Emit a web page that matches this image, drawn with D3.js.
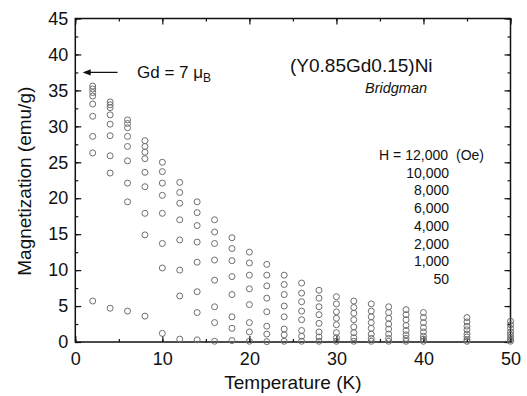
<!DOCTYPE html>
<html>
<head>
<meta charset="utf-8">
<script src="https://cdn.jsdelivr.net/npm/d3@7"></script>
<style>
  html, body { margin: 0; padding: 0; background: #fff; }
  svg { display: block; }
  text { font-family: "Liberation Sans", Arial, Helvetica, sans-serif; fill: #111; }
</style>
</head>
<body>
<svg id="chart" width="527" height="396"></svg>
<script>
// ---- data ----
const temperatures = [2, 4, 6, 8, 10, 12, 14, 16, 18, 20, 22, 24, 26, 28, 30, 32, 34, 36, 38, 40, 45, 50];
const h12000 = [35.6, 33.4, 30.9, 28.0, 25.0, 22.2, 19.5, 17.0, 14.5, 12.5, 10.8, 9.3, 8.2, 7.2, 6.3, 5.7, 5.3, 4.9, 4.5, 4.1, 3.4, 2.9];
const h10000 = [35.2, 33.0, 30.4, 27.2, 23.7, 20.8, 18.0, 15.3, 13.0, 11.0, 9.3, 8.0, 6.8, 6.1, 5.3, 4.8, 4.3, 4.1, 3.8, 3.4, 2.8, 2.4];
const h8000  = [34.7, 32.6, 29.8, 26.4, 22.1, 19.3, 16.2, 13.7, 11.3, 9.3, 7.8, 6.6, 5.6, 4.9, 4.2, 4.0, 3.5, 3.3, 3.1, 2.7, 2.2, 1.9];
const h6000  = [34.2, 31.6, 28.6, 25.5, 20.4, 17.0, 13.9, 11.4, 9.1, 7.4, 6.1, 5.0, 4.3, 3.8, 3.3, 3.1, 2.7, 2.5, 2.3, 2.0, 1.7, 1.4];
const h4000  = [33.1, 30.3, 27.2, 23.6, 17.9, 14.2, 11.1, 8.6, 6.6, 5.2, 4.2, 3.5, 3.1, 2.6, 2.4, 2.1, 1.9, 1.8, 1.6, 1.4, 1.1, 1.0];
const h2000  = [31.4, 28.7, 25.2, 21.6, 13.7, 10.0, 7.0, 4.9, 3.5, 2.7, 2.2, 1.8, 1.6, 1.4, 1.3, 1.3, 1.1, 1.1, 1.0, 0.8, 0.7, 0.6];
const h1000  = [28.6, 25.9, 22.1, 17.9, 10.3, 6.4, 4.1, 2.7, 1.9, 1.4, 1.1, 1.0, 0.8, 0.7, 0.6, 0.6, 0.5, 0.5, 0.5, 0.4, 0.3, 0.3];
const hExtra = [26.3, 23.5, 19.5, 14.9, null, null, null, null, null, null, null, null, null, null, null, null, null, null, null, null, null, null];
const h50    = [5.7, 4.7, 4.3, 3.6, 1.2, 0.4, 0.3, 0.1, 0.2, 0.1, 0.05, 0.1, 0.1, 0.1, 0.1, 0.1, 0.1, 0.1, 0.1, 0.1, 0.1, 0.1];
const seriesList = [h12000, h10000, h8000, h6000, h4000, h2000, h1000, hExtra, h50];

const xTicks = [0, 10, 20, 30, 40, 50];
const yTicks = [0, 5, 10, 15, 20, 25, 30, 35, 40, 45];
const fieldLabels = ["10,000", "8,000", "6,000", "4,000", "2,000", "1,000", "50"];
const gdMoment = 37.5;

// ---- layout ----
const svg = d3.select("#chart");
const pLeft = 75.3, pRight = 510.5, pTop = 18.5, pBottom = 342;
const x = d3.scaleLinear().domain([0, 50]).range([pLeft, pRight]);
const y = d3.scaleLinear().domain([0, 45]).range([pBottom, pTop]);

const FONT = '"Liberation Sans", Arial, Helvetica, sans-serif';

function styleAxis(g) {
  g.select(".domain").remove();
  g.selectAll("line").attr("stroke", "#111").attr("stroke-width", 1.2);
  g.selectAll("text").attr("font-family", FONT).attr("fill", "#111");
}
const xMinor = d3.range(0, 50.01, 5);
const yMinor = d3.range(0, 45.01, 2.5);

// bottom
svg.append("g").attr("transform", `translate(0,${pBottom})`)
  .call(d3.axisBottom(x).tickValues(xMinor).tickSize(-3).tickFormat(""))
  .call(styleAxis);
svg.append("g").attr("transform", `translate(0,${pBottom})`)
  .call(d3.axisBottom(x).tickValues(xTicks).tickSize(-6).tickFormat(d3.format("d")))
  .call(styleAxis)
  .call(g => g.selectAll("text").attr("font-size", 18).attr("dy", "0.71em").attr("y", 10));
// top
svg.append("g").attr("transform", `translate(0,${pTop})`)
  .call(d3.axisTop(x).tickValues(xMinor).tickSize(-3).tickFormat(""))
  .call(styleAxis);
svg.append("g").attr("transform", `translate(0,${pTop})`)
  .call(d3.axisTop(x).tickValues(xTicks).tickSize(-6).tickFormat(""))
  .call(styleAxis);
// left
svg.append("g").attr("transform", `translate(${pLeft},0)`)
  .call(d3.axisLeft(y).tickValues(yMinor).tickSize(-3).tickFormat(""))
  .call(styleAxis);
svg.append("g").attr("transform", `translate(${pLeft},0)`)
  .call(d3.axisLeft(y).tickValues(yTicks).tickSize(-6).tickFormat(d3.format("d")))
  .call(styleAxis)
  .call(g => g.selectAll("text").attr("font-size", 18).attr("x", -7));
// right
svg.append("g").attr("transform", `translate(${pRight},0)`)
  .call(d3.axisRight(y).tickValues(yMinor).tickSize(-3).tickFormat(""))
  .call(styleAxis);
svg.append("g").attr("transform", `translate(${pRight},0)`)
  .call(d3.axisRight(y).tickValues(yTicks).tickSize(-6).tickFormat(""))
  .call(styleAxis);

// frame
svg.append("rect")
  .attr("x", pLeft).attr("y", pTop)
  .attr("width", pRight - pLeft).attr("height", pBottom - pTop)
  .attr("fill", "none").attr("stroke", "#111").attr("stroke-width", 1.5);

// points
const pts = [];
seriesList.forEach((s, si) => s.forEach((v, i) => {
  if (v !== null) pts.push({ t: temperatures[i], m: v, s: si });
}));
svg.append("g").selectAll("circle").data(pts).join("circle")
  .attr("cx", d => x(d.t)).attr("cy", d => y(d.m))
  .attr("r", 3)
  .attr("fill", "none")
  .attr("stroke", "#6f6f6f")
  .attr("stroke-width", 1);

// axis titles
svg.append("text")
  .attr("x", (pLeft + pRight) / 2).attr("y", 389)
  .attr("text-anchor", "middle").attr("font-size", 19)
  .text("Temperature (K)");
svg.append("text")
  .attr("transform", `translate(31,${(pTop + pBottom) / 2 + 1}) rotate(-90)`)
  .attr("text-anchor", "middle").attr("font-size", 19)
  .text("Magnetization (emu/g)");

// Gd arrow annotation
svg.append("line")
  .attr("x1", x(4.85)).attr("x2", x(1.1))
  .attr("y1", y(gdMoment)).attr("y2", y(gdMoment))
  .attr("stroke", "#111").attr("stroke-width", 1.2);
svg.append("path")
  .attr("d", `M${x(0.85)},${y(gdMoment)} l8,-3.2 l0,6.4 z`)
  .attr("fill", "#111");
const gd = svg.append("text").attr("x", 137).attr("y", 78).attr("font-size", 17);
gd.append("tspan").text("Gd = 7 \u03bc");
gd.append("tspan").attr("font-size", 12).attr("dy", 4).text("B");

// sample labels
svg.append("text").attr("x", 290).attr("y", 72).attr("font-size", 19)
  .text("(Y0.85Gd0.15)Ni");
svg.append("text").attr("x", 365).attr("y", 93).attr("font-size", 14.5)
  .attr("font-style", "italic").text("Bridgman");

// field legend
svg.append("text").attr("x", 448).attr("y", 160).attr("font-size", 14)
  .attr("text-anchor", "end").text("H = 12,000");
svg.append("text").attr("x", 456).attr("y", 160).attr("font-size", 14)
  .text("(Oe)");
svg.append("g").selectAll("text").data(fieldLabels).join("text")
  .attr("x", 449).attr("y", (d, i) => 177.7 + i * 17.7)
  .attr("font-size", 14).attr("text-anchor", "end")
  .text(d => d);
</script>
</body>
</html>
